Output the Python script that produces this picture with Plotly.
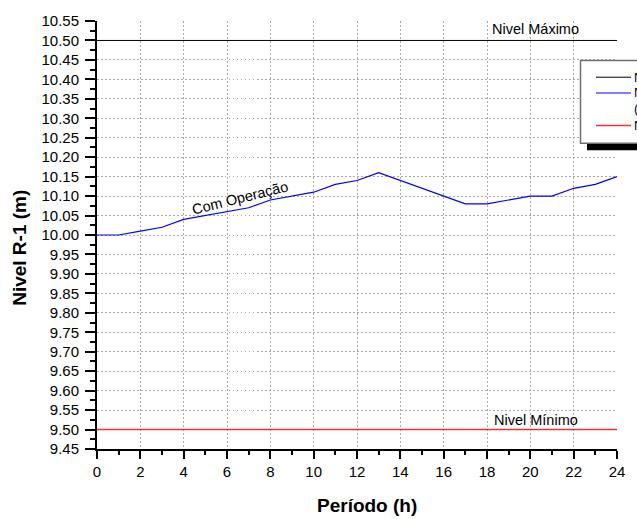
import plotly.graph_objects as go

# Reservoir level over a 24 h operating period
horas = list(range(25))
nivel_r1 = [10.00, 10.00, 10.01, 10.02, 10.04, 10.05, 10.06, 10.07, 10.09,
            10.10, 10.11, 10.13, 10.14, 10.16, 10.14, 10.12, 10.10, 10.08,
            10.08, 10.09, 10.10, 10.10, 10.12, 10.13, 10.15]
nivel_maximo = 10.50
nivel_minimo = 9.50

x_ticks = list(range(0, 25, 2))
y_range = [9.45, 10.55]

FONT = "Liberation Sans, Arial, sans-serif"
W, H = 637, 519
ML, MR, MT, MB = 97, 20, 15, 70
PW, PH = W - ML - MR, H - MT - MB


def px_x(p):
    return (p - ML) / PW


def px_y(p):
    return (H - MB - p) / PH


fig = go.Figure()

fig.add_trace(go.Scatter(x=[horas[0], horas[-1]], y=[nivel_maximo] * 2,
                         mode="lines", line=dict(color="black", width=1),
                         name="Nivel Máximo", showlegend=False))
fig.add_trace(go.Scatter(x=horas, y=nivel_r1, mode="lines",
                         line=dict(color="#0000ff", width=1.2),
                         name="Nivel R-1", showlegend=False))
fig.add_trace(go.Scatter(x=[horas[0], horas[-1]], y=[nivel_minimo] * 2,
                         mode="lines", line=dict(color="#ee3333", width=1.5),
                         name="Nivel Mínimo", showlegend=False))

grid = dict(showgrid=True, gridcolor="#a8a8a8", griddash="1.5px,2.5px",
            gridwidth=1)

fig.update_xaxes(range=[0, 24], tickvals=x_ticks, ticks="outside", ticklen=8,
                 tickwidth=1.5, tickcolor="black", showline=True,
                 linecolor="black", linewidth=2, zeroline=False,
                 minor=dict(dtick=1, ticks="outside", ticklen=4, tickwidth=1.5,
                            tickcolor="black", showgrid=False),
                 tickfont=dict(family=FONT, size=15, color="black"), **grid)
fig.update_yaxes(range=y_range, dtick=0.05, tick0=9.45, tickformat=".2f",
                 ticks="outside", ticklen=10, tickwidth=1.5, tickcolor="black",
                 showline=True, linecolor="black", linewidth=2, zeroline=False,
                 ticklabelstandoff=3,
                 minor=dict(dtick=0.025, ticks="outside", ticklen=5,
                            tickwidth=1.5, tickcolor="black", showgrid=False),
                 tickfont=dict(family=FONT, size=15, color="black"), **grid)

annotations = [
    dict(x=20.26, y=nivel_maximo, xref="x", yref="y", text="Nivel Máximo",
         showarrow=False, yanchor="bottom", yshift=1,
         font=dict(family=FONT, size=14.5, color="black")),
    dict(x=20.26, y=nivel_minimo, xref="x", yref="y", text="Nivel Mínimo",
         showarrow=False, yanchor="bottom", yshift=0,
         font=dict(family=FONT, size=14.5, color="black")),
    dict(x=6.6, y=10.094, xref="x", yref="y", text="Com Operação",
         showarrow=False, textangle=-14,
         font=dict(family=FONT, size=14.5, color="black")),
    dict(x=px_x(20), y=px_y(245), xref="paper", yref="paper",
         text="<b>Nivel R-1 (m)</b>", showarrow=False, textangle=-90,
         xanchor="center", yanchor="middle",
         font=dict(family=FONT, size=19, color="black")),
    dict(x=px_x(367), y=px_y(506), xref="paper", yref="paper",
         text="<b>Período (h)</b>", showarrow=False,
         xanchor="center", yanchor="middle",
         font=dict(family=FONT, size=19, color="black")),
]

# Legend box (with drop shadow) running off the right edge
shapes = [
    dict(type="rect", xref="paper", yref="paper", x0=px_x(587), x1=px_x(700),
         y0=px_y(146), y1=px_y(62), fillcolor="black", line=dict(width=0),
         layer="above"),
    dict(type="rect", xref="paper", yref="paper", x0=px_x(580.5), x1=px_x(700),
         y0=px_y(139), y1=px_y(55), fillcolor="white",
         line=dict(color="#707070", width=1.5), layer="above"),
]
legend_items = [("black", 1, 72, "Nivel Máximo"),
                ("#0000ff", 1.2, 88, "Nivel R-1"),
                ("#ee3333", 1.5, 121, "Nivel Mínimo")]
for color, width, py, label in legend_items:
    shapes.append(dict(type="line", xref="paper", yref="paper",
                       x0=px_x(596), x1=px_x(631), y0=px_y(py), y1=px_y(py),
                       line=dict(color=color, width=width), layer="above"))
    annotations.append(dict(x=px_x(632), y=px_y(py), xref="paper",
                            yref="paper", text=label, showarrow=False,
                            xanchor="left", yanchor="middle",
                            font=dict(family=FONT, size=13, color="black")))
annotations.append(dict(x=px_x(632), y=px_y(104), xref="paper", yref="paper",
                        text="(Com Operação)", showarrow=False,
                        xanchor="left", yanchor="middle",
                        font=dict(family=FONT, size=13, color="black")))

fig.update_layout(width=W, height=H, plot_bgcolor="white",
                  paper_bgcolor="white",
                  margin=dict(l=ML, r=MR, t=MT, b=MB, pad=0),
                  annotations=annotations, shapes=shapes, showlegend=False)

fig.write_html("out.html")
